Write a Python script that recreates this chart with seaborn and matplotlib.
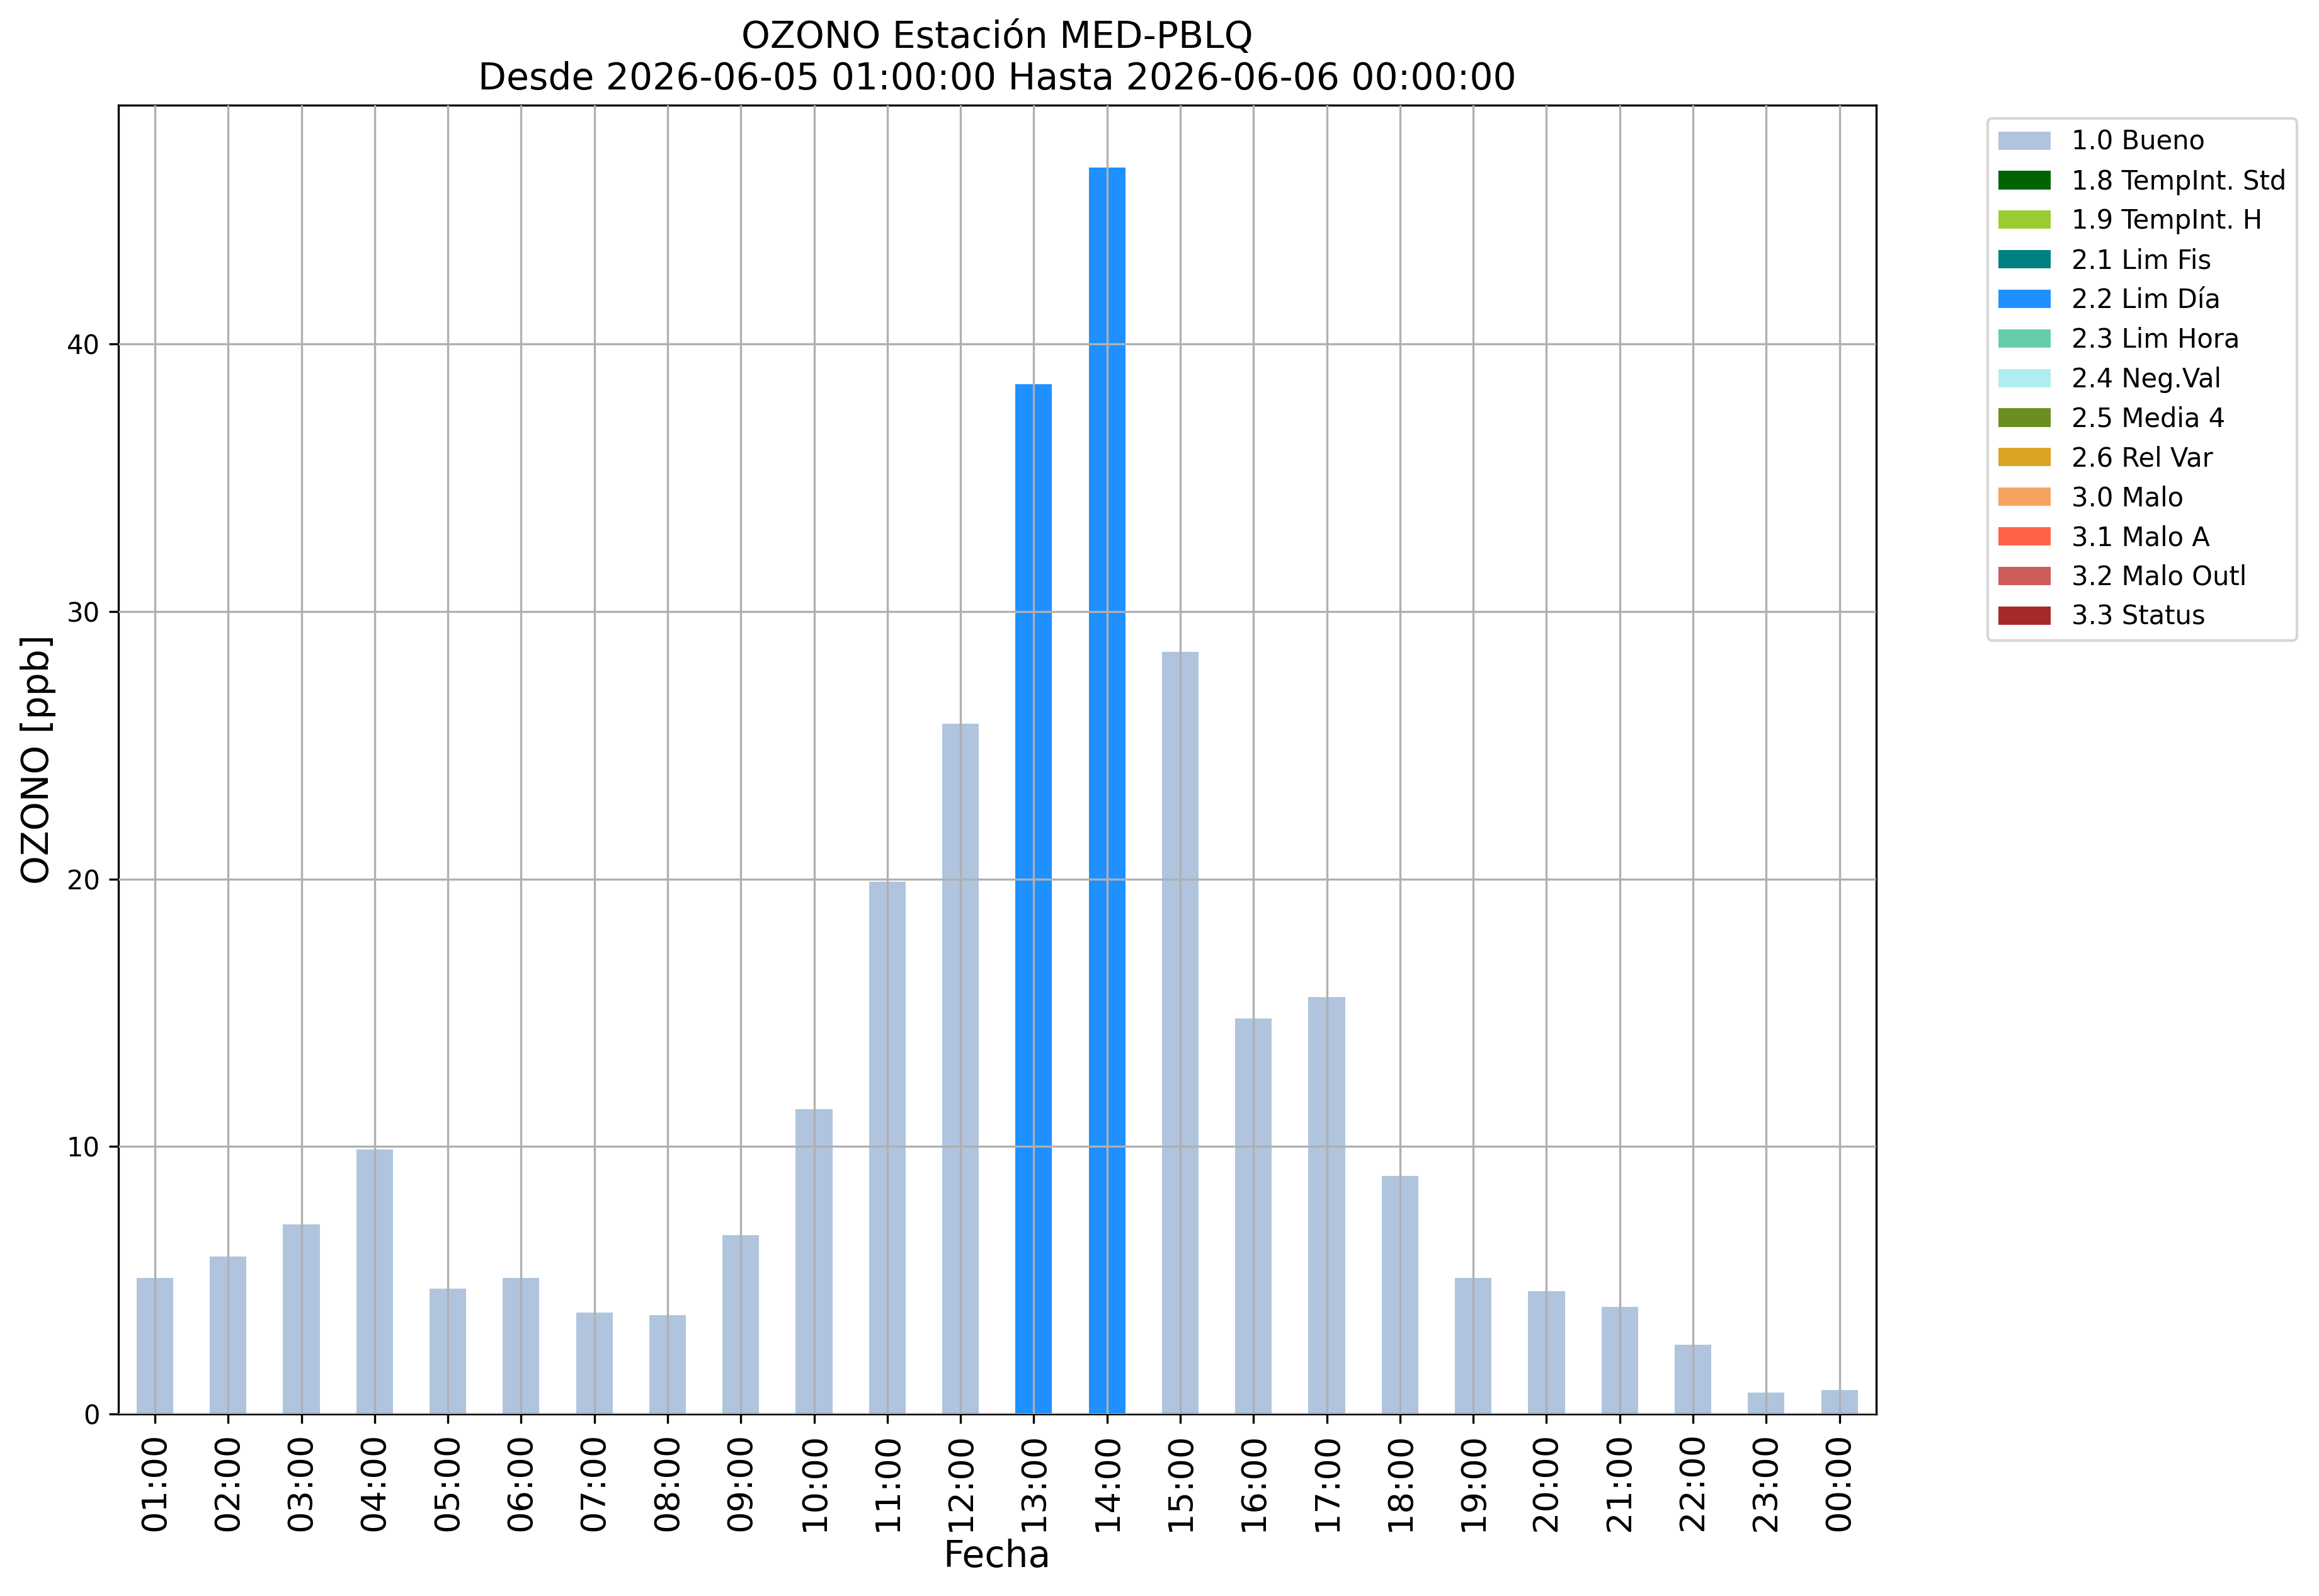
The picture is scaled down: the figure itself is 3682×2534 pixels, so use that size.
"""
Ozone hourly bars for station MED-PBLQ, coloured by quality flag.
"""

import matplotlib
matplotlib.use("Agg")
import matplotlib.pyplot as plt
from matplotlib.patches import Patch
import pandas as pd
import seaborn as sn

# hourly labels and ozone values [ppb]
horas = ["01:00", "02:00", "03:00", "04:00", "05:00", "06:00", "07:00", "08:00",
         "09:00", "10:00", "11:00", "12:00", "13:00", "14:00", "15:00", "16:00",
         "17:00", "18:00", "19:00", "20:00", "21:00", "22:00", "23:00", "00:00"]
ozono = [5.1, 5.9, 7.1, 9.9, 4.7, 5.1, 3.8, 3.7, 6.7, 11.4, 19.9, 25.8,
         38.5, 46.6, 28.5, 14.8, 15.6, 8.9, 5.1, 4.6, 4.0, 2.6, 0.8, 0.9]
banderas = ["1.0 Bueno"] * 12 + ["2.2 Lim Día"] * 2 + ["1.0 Bueno"] * 10

# quality flags and their colours
etiquetas = ["1.0 Bueno", "1.8 TempInt. Std", "1.9 TempInt. H", "2.1 Lim Fis",
             "2.2 Lim Día", "2.3 Lim Hora", "2.4 Neg.Val", "2.5 Media 4",
             "2.6 Rel Var", "3.0 Malo", "3.1 Malo A", "3.2 Malo Outl", "3.3 Status"]
colores = ["lightsteelblue", "darkgreen", "yellowgreen", "teal", "dodgerblue",
           "mediumaquamarine", "paleturquoise", "olivedrab", "goldenrod",
           "sandybrown", "tomato", "indianred", "brown"]

df = pd.DataFrame({"Fecha": horas, "OZONO": ozono, "Bandera": banderas})
paleta = dict(zip(etiquetas, colores))

fig, ax = plt.subplots(figsize=(3682 / 300, 2534 / 300))
fig.subplots_adjust(left=0.051, right=0.809, bottom=0.114, top=0.934)

sn.barplot(data=df, x="Fecha", y="OZONO", hue="Bandera", hue_order=etiquetas,
           palette=paleta, dodge=False, width=0.5, saturation=1, legend=False,
           order=horas, ax=ax)

#Grid on top of the bars like the pandas original
ax.set_axisbelow(False)
ax.grid(True, color="#b0b0b0", linewidth=0.8)
ax.set_xlim(-0.5, len(horas) - 0.5)
ax.set_ylim(0, max(ozono) * 1.05)

ax.tick_params(axis="x", labelsize=13, labelrotation=90)
ax.tick_params(axis="y", labelsize=10)
ax.set_xlabel("Fecha", fontsize=14, labelpad=3)
ax.set_ylabel("OZONO [ppb]", fontsize=14)
ax.set_title("OZONO Estación MED-PBLQ\nDesde 2026-06-05 01:00:00 Hasta 2026-06-06 00:00:00",
             fontsize=14)

handles = [Patch(facecolor=c, label=e) for e, c in zip(etiquetas, colores)]
ax.legend(handles=handles, bbox_to_anchor=(1.056, 1), loc="upper left", fontsize=10)

fig.savefig("out.png", dpi=300)
plt.close(fig)
